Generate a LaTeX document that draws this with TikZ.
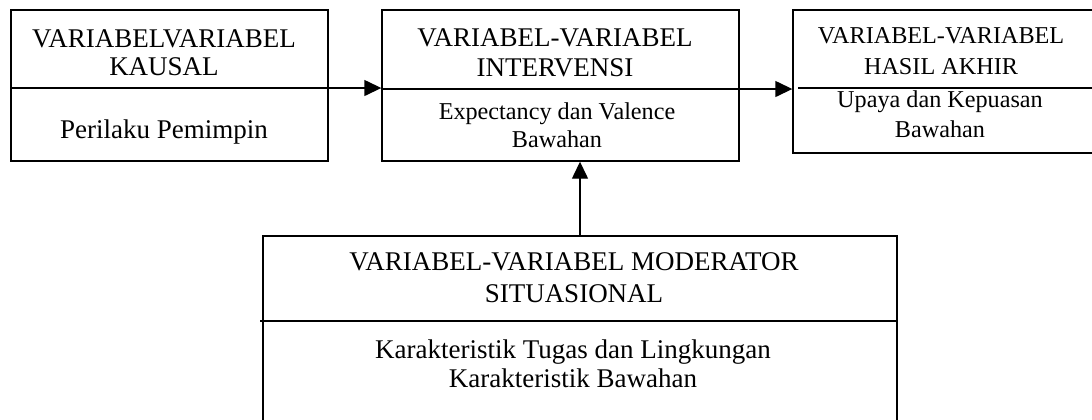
\documentclass[tikz,border=0pt]{standalone}
\usepackage{fontspec}
\setmainfont{Liberation Serif}
\usetikzlibrary{arrows.meta,fit}
\tikzset{
  box/.style={draw=black, line width=0.7pt, inner sep=0pt, rectangle},
  bigtxt/.style={anchor=base, inner sep=0pt, font=\fontsize{13.5}{15}\selectfont},
  smalltxt/.style={anchor=base, inner sep=0pt, font=\fontsize{12.1}{14}\selectfont},
  arr/.style={line width=0.7pt, -{Triangle[length=8.5pt,width=8pt]}},
  divider/.style={line width=0.7pt}
}
\begin{document}
\begin{tikzpicture}[x=0.5pt,y=-0.5pt]
\useasboundingbox (0,0) rectangle (1092,419);
\clip (0,0) rectangle (1092,419);
% boxes
\node[box, fit={(11,10) (328,161)}] (b1) {};
\node[box, fit={(382,10) (739,161)}] (b2) {};
\node[box, fit={(793,10) (1110,153)}] (b3) {};
\node[box, fit={(263,236) (897,440)}] (b4) {};
% divider start points
\coordinate (d1) at (11,88);
\coordinate (d2) at (382,89);
\coordinate (d3) at (798,88);
\coordinate (d4) at (260,321);
% connectors
\draw[arr] (d1) -- (d1 -| b2.west);
\draw[arr] (d2) -- (d2 -| b3.west);
\draw[arr] (b4.north -| 580,0) -- (b2.south -| 580,0);
\draw[divider] (d3) -- (d3 -| b3.east);
\draw[divider] (d4) -- (d4 -| b4.east);
% texts box 1
\node[bigtxt] (t1a) at (164,47) {VARIABELVARIABEL};
\node[bigtxt] (t1b) at (164,75) {KAUSAL};
\node[bigtxt] (t1c) at (164,138) {Perilaku Pemimpin};
% texts box 2
\node[bigtxt] (t2a) at (555,46) {VARIABEL-VARIABEL};
\node[bigtxt] (t2b) at (555,76) {INTERVENSI};
\node[smalltxt] (t2c) at (557,119) {Expectancy dan Valence};
\node[smalltxt] (t2d) at (557,147) {Bawahan};
% texts box 3
\node[smalltxt] (t3a) at (941,43) {VARIABEL-VARIABEL};
\node[smalltxt] (t3b) at (941,74) {HASIL AKHIR};
\node[smalltxt] (t3c) at (940,107) {Upaya dan Kepuasan};
\node[smalltxt] (t3d) at (940,137) {Bawahan};
% texts box 4
\node[bigtxt] (t4a) at (574,270) {VARIABEL-VARIABEL MODERATOR};
\node[bigtxt] (t4b) at (574,302) {SITUASIONAL};
\node[bigtxt] (t4c) at (573,358) {Karakteristik Tugas dan Lingkungan};
\node[bigtxt] (t4d) at (573,387) {Karakteristik Bawahan};
\end{tikzpicture}
\end{document}
